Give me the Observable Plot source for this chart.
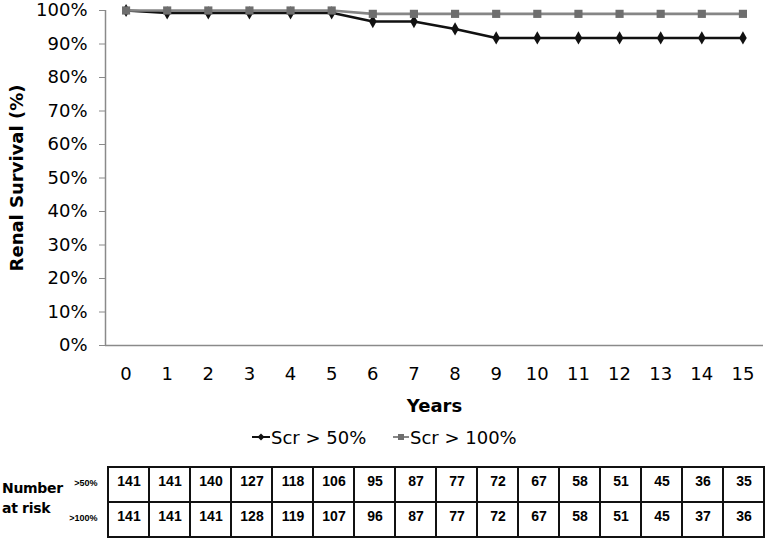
<!DOCTYPE html>
<html>
<head>
<meta charset="utf-8">
<script src="https://cdn.jsdelivr.net/npm/d3@7"></script>
<script src="https://cdn.jsdelivr.net/npm/@observablehq/plot@0.6"></script>
<style>
  html, body { margin: 0; padding: 0; background: #fff; }
  #wrap { position: relative; width: 768px; height: 540px; overflow: hidden; background: #fff; font-family: "DejaVu Sans", sans-serif; }
  #main { position: absolute; left: 0; top: 0; }
  #legend { position: absolute; left: 0; top: 426px; width: 768px; height: 22px; }
  .item { position: absolute; top: 0; height: 22px; display: flex; align-items: center; font-size: 18px; color: #000; white-space: nowrap; }
  .item svg { margin-right: 1px; }
  #table { position: absolute; left: 0; top: 465px; }
  #nar { position: absolute; z-index: 5; left: 2px; top: 478px; font-weight: bold; font-size: 14px; line-height: 20px; color: #000; letter-spacing: -0.3px; }
</style>
</head>
<body>
<div id="wrap">
  <div id="main"></div>
  <div id="legend"></div>
  <div id="table"></div>
  <div id="nar">Number<br>at risk</div>
</div>
<script>
// ---- data ----
const years = [0, 1, 2, 3, 4, 5, 6, 7, 8, 9, 10, 11, 12, 13, 14, 15];
const seriesNames = ["Scr > 50%", "Scr > 100%"];
const survival50 = [100, 99.3, 99.3, 99.3, 99.3, 99.3, 96.7, 96.7, 94.5, 91.8, 91.8, 91.8, 91.8, 91.8, 91.8, 91.8];
const survival100 = [100, 100, 100, 100, 100, 100, 99.0, 99.0, 99.0, 99.0, 99.0, 99.0, 99.0, 99.0, 99.0, 99.0];
const yTicks = [0, 10, 20, 30, 40, 50, 60, 70, 80, 90, 100];
const riskRowLabels = [">50%", ">100%"];
const atRisk50 = [141, 141, 140, 127, 118, 106, 95, 87, 77, 72, 67, 58, 51, 45, 36, 35];
const atRisk100 = [141, 141, 141, 128, 119, 107, 96, 87, 77, 72, 67, 58, 51, 45, 37, 36];

const d50 = years.map((y, i) => ({year: y, value: survival50[i]}));
const d100 = years.map((y, i) => ({year: y, value: survival100[i]}));

const axisGray = "#8a8a8a";

const main = Plot.plot({
  width: 768,
  height: 420,
  marginTop: 10,
  marginLeft: 105,
  marginRight: 5,
  marginBottom: 75,
  style: {fontFamily: "DejaVu Sans, sans-serif", fontSize: "18px", color: "#000", background: "#fff", overflow: "visible"},
  x: {domain: [-0.5, 15.5]},
  y: {domain: [0, 100]},
  marks: [
    Plot.axisY({ticks: yTicks, tickFormat: d => d + "%", tickSize: 6, tickPadding: 12, stroke: axisGray, fill: "#000", label: null, fontSize: 18}),
    Plot.axisX({ticks: years, tickFormat: d => String(d), tickSize: 0, tickPadding: 22, label: null, fill: "#000", fontSize: 18}),
    Plot.ruleY([0], {stroke: axisGray, strokeWidth: 1.5}),
    Plot.ruleX([-0.5], {y1: 0, y2: 100, stroke: axisGray, strokeWidth: 1.5}),
    Plot.line(d50, {x: "year", y: "value", stroke: "#111", strokeWidth: 2.6}),
    Plot.dot(d50, {x: "year", y: "value", symbol: "diamond", r: 4, fill: "#111", stroke: "none"}),
    Plot.line(d100, {x: "year", y: "value", stroke: "#868686", strokeWidth: 2.6}),
    Plot.dot(d100, {x: "year", y: "value", symbol: "square", r: 4.6, fill: "#6e6e6e", stroke: "none"}),
    Plot.text(["Renal Survival (%)"], {frameAnchor: "left", dx: -88, rotate: -90, textAnchor: "middle", lineAnchor: "middle", fontWeight: "bold", fontSize: 18, fill: "#000"}),
    Plot.text(["Years"], {frameAnchor: "bottom", dy: 61, textAnchor: "middle", lineAnchor: "middle", fontWeight: "bold", fontSize: 18, fill: "#000"})
  ]
});
document.getElementById("main").appendChild(main);

// ---- legend ----
const legend = document.getElementById("legend");
const legendLefts = [252, 393];
seriesNames.forEach((name, i) => {
  const item = document.createElement("div");
  item.className = "item";
  item.style.left = legendLefts[i] + "px";
  const marker = i === 0
    ? '<svg width="18" height="12"><line x1="0" y1="6" x2="18" y2="6" stroke="#111" stroke-width="2"/><path d="M9 2.5 L12.5 6 L9 9.5 L5.5 6 Z" fill="#111"/></svg>'
    : '<svg width="16" height="12"><line x1="0" y1="6" x2="16" y2="6" stroke="#868686" stroke-width="2"/><rect x="5" y="3" width="6" height="6" fill="#6e6e6e"/></svg>';
  item.innerHTML = marker + "<span>" + name + "</span>";
  legend.appendChild(item);
});

// ---- number at risk table ----
const tableData = [];
years.forEach((y, i) => {
  tableData.push({year: y, row: riskRowLabels[0], n: atRisk50[i]});
  tableData.push({year: y, row: riskRowLabels[1], n: atRisk100[i]});
});

const table = Plot.plot({
  width: 768,
  height: 75,
  marginTop: 2,
  marginBottom: 3,
  marginLeft: 104,
  marginRight: 1,
  style: {fontFamily: "Liberation Sans, Arial, sans-serif", color: "#000", background: "transparent", overflow: "visible"},
  x: {type: "band", domain: years, padding: 0, axis: null},
  y: {type: "band", domain: riskRowLabels, padding: 0},
  marks: [
    Plot.cell(tableData, {x: "year", y: "row", fill: "#fff", stroke: "#111", strokeWidth: 2}),
    Plot.text(tableData, {x: "year", y: "row", text: "n", dy: -3, fontWeight: "bold", fontSize: 14, fill: "#000", fontFamily: "Liberation Sans Narrow, Liberation Sans, sans-serif"}),
    Plot.axisY({tickSize: 0, tickPadding: 7, label: null, fontSize: 9, fontWeight: "bold", fill: "#000", dy: -2})
  ]
});
document.getElementById("table").appendChild(table);
</script>
</body>
</html>
